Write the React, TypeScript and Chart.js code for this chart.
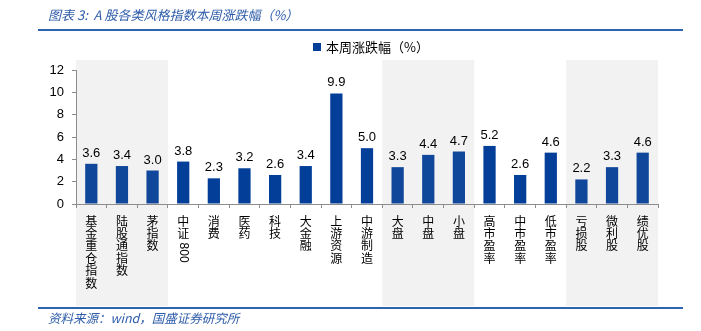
import React, { useEffect, useRef } from 'react';
import { Chart, registerables } from 'chart.js';

Chart.register(...registerables);

const titleText = '图表 3:  A 股各类风格指数本周涨跌幅（%）';
const sourceText = '资料来源：wind，国盛证券研究所';
const seriesName = '本周涨跌幅（%）';

const categories = [
  '基金重仓指数', '陆股通指数', '茅指数', '中证800', '消费', '医药', '科技', '大金融',
  '上游资源', '中游制造', '大盘', '中盘', '小盘', '高市盈率', '中市盈率', '低市盈率',
  '亏损股', '微利股', '绩优股',
];
const values = [3.6, 3.4, 3.0, 3.8, 2.3, 3.2, 2.6, 3.4, 9.9, 5.0, 3.3, 4.4, 4.7, 5.2, 2.6, 4.6, 2.2, 3.3, 4.6];
const valueLabels = ['3.6', '3.4', '3.0', '3.8', '2.3', '3.2', '2.6', '3.4', '9.9', '5.0', '3.3', '4.4', '4.7', '5.2', '2.6', '4.6', '2.2', '3.3', '4.6'];
const shadedGroups = [[0, 2], [10, 12], [16, 18]];
const yMin = 0;
const yMax = 12;
const yStep = 2;

const BAR = '#033f98';
const BAR_SHADED = '#10479a';
const BLUE_TEXT = '#2d5ca9';
const CJK = '"Noto Sans CJK SC", "Noto Sans", sans-serif';
const NUM = '"Liberation Sans", Arial, sans-serif';

const decorPlugin = {
  id: 'decor',
  beforeDraw(chart: any) {
    const { ctx, chartArea } = chart;
    const x = chart.scales.x;
    ctx.save();
    ctx.fillStyle = '#ffffff';
    ctx.fillRect(0, 0, chart.width, chart.height);
    const half = (x.getPixelForValue(1) - x.getPixelForValue(0)) / 2;
    ctx.fillStyle = '#f2f2f2';
    shadedGroups.forEach(([a, b]) => {
      const l = x.getPixelForValue(a) - half;
      const r = x.getPixelForValue(b) + half;
      ctx.fillRect(l, chartArea.top - 10, r - l, 306 - (chartArea.top - 10));
    });
    ctx.restore();
  },
  afterDraw(chart: any) {
    const { ctx } = chart;
    const x = chart.scales.x;
    const y = chart.scales.y;
    const meta = chart.getDatasetMeta(0);
    ctx.save();
    // title
    ctx.fillStyle = BLUE_TEXT;
    ctx.font = `italic 13px ${CJK}`;
    ctx.textBaseline = 'middle';
    ctx.textAlign = 'left';
    ctx.fillText(titleText, 48, 15);
    // lines
    ctx.fillStyle = '#2e63b0';
    ctx.fillRect(38, 29, 645, 2);
    ctx.fillRect(38, 307, 645, 2);
    // source
    ctx.fillStyle = BLUE_TEXT;
    ctx.font = `italic 12.5px ${CJK}`;
    ctx.fillText(sourceText, 48, 318);
    // legend
    ctx.fillStyle = BAR;
    ctx.fillRect(313, 43, 8, 8);
    ctx.fillStyle = '#000';
    ctx.font = `13px ${CJK}`;
    ctx.fillText(seriesName, 326, 47);
    // value labels
    ctx.font = `13px ${NUM}`;
    ctx.textAlign = 'center';
    ctx.textBaseline = 'alphabetic';
    meta.data.forEach((bar: any, i: number) => {
      ctx.fillText(valueLabels[i], bar.x, y.getPixelForValue(values[i]) - 7);
    });
    // category labels, stacked vertically
    const step = 12.4;
    categories.forEach((cat, i) => {
      const cx = x.getPixelForValue(i);
      let cy = 221;
      const segs = cat.match(/[A-Za-z0-9]+|./g) || [];
      segs.forEach((s) => {
        if (/^[A-Za-z0-9]+$/.test(s)) {
          ctx.save();
          ctx.font = `12px ${NUM}`;
          ctx.textAlign = 'left';
          ctx.textBaseline = 'middle';
          ctx.translate(cx, cy - step / 2 + 3);
          ctx.rotate(Math.PI / 2);
          ctx.fillText(s, 0, 0);
          ctx.restore();
          cy += ctx.measureText(s).width + 4;
        } else {
          ctx.font = `12px ${CJK}`;
          ctx.textAlign = 'center';
          ctx.textBaseline = 'middle';
          ctx.fillText(s, cx, cy);
          cy += step;
        }
      });
    });
    ctx.restore();
  },
};

export default function App() {
  const ref = useRef<HTMLCanvasElement | null>(null);
  useEffect(() => {
    if (!ref.current) return;
    const chart = new Chart(ref.current, {
      type: 'bar',
      data: {
        labels: categories,
        datasets: [
          {
            label: seriesName,
            data: values,
            backgroundColor: values.map((_, i) =>
              shadedGroups.some(([a, b]) => i >= a && i <= b) ? BAR_SHADED : BAR
            ),
            barPercentage: 0.4,
            categoryPercentage: 1,
          },
        ],
      },
      options: {
        animation: false,
        responsive: false,
        devicePixelRatio: 1,
        layout: { padding: { left: 0, right: 43, top: 70, bottom: 0 } },
        plugins: { legend: { display: false }, tooltip: { enabled: false }, title: { display: false } },
        scales: {
          x: {
            afterFit(scale: any) {
              scale.height = 127;
            },
            ticks: { display: false },
            grid: { offset: true, drawOnChartArea: false, tickLength: 4, color: '#8c8c8c' },
            border: { color: '#8c8c8c' },
          },
          y: {
            min: yMin,
            max: yMax,
            afterFit(scale: any) {
              scale.width = 76;
            },
            ticks: { stepSize: yStep, color: '#000', font: { family: NUM, size: 13 }, padding: 8 },
            grid: { drawOnChartArea: false, tickLength: 4, color: '#8c8c8c' },
            border: { color: '#8c8c8c' },
          },
        },
      },
      plugins: [decorPlugin],
    });
    return () => chart.destroy();
  }, []);
  return (
    <div style={{ position: 'absolute', left: 0, top: 0, width: 701, height: 331 }}>
      <canvas ref={ref} width={701} height={331} style={{ width: 701, height: 331, display: 'block' }} />
    </div>
  );
}
